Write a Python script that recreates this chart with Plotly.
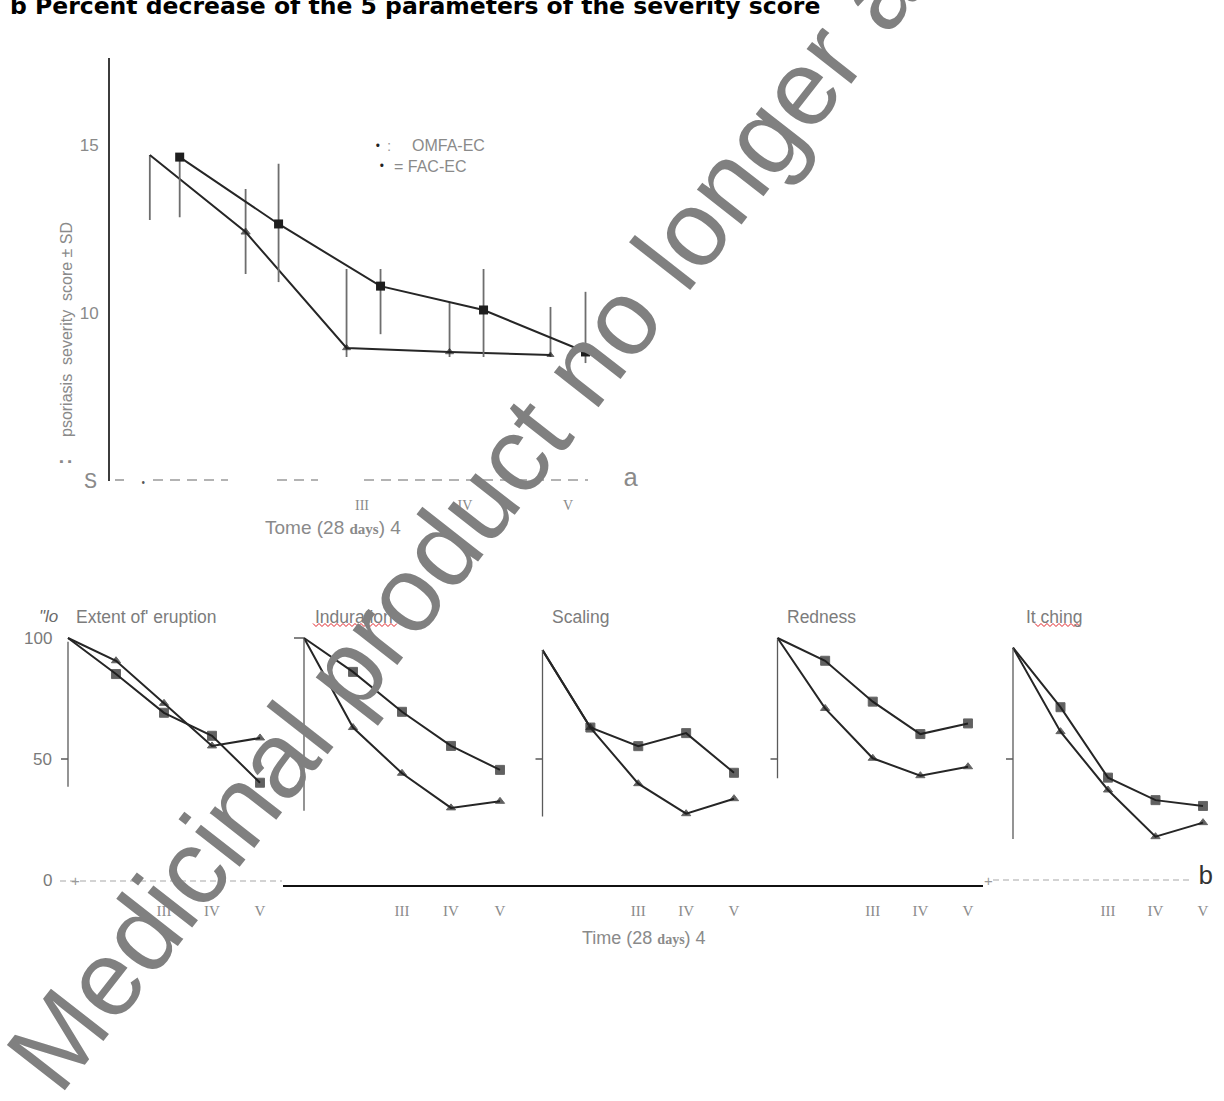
import plotly.graph_objects as go

W, H = 1224, 1101


def fx(px):
    return px / W


def fy(py):
    return 1 - py / H


# ---------------- data ----------------
# (a) psoriasis severity score, mean +/- SD per visit
visit_ticks = [3, 4, 5]
visit_labels = ["III", "IV", "V"]

omfa_time = [0.94, 1.87, 2.85, 3.85, 4.83]
omfa_score = [14.70, 12.41, 8.96, 8.84, 8.75]
omfa_sd_up = [0.00, 1.28, 2.35, 1.49, 1.43]
omfa_sd_down = [1.93, 1.25, 0.27, 0.15, 0.06]

fac_time = [1.23, 2.19, 3.18, 4.18, 5.17]
fac_score = [14.64, 12.65, 10.80, 10.09, 8.84]
fac_sd_up = [0.00, 1.79, 0.51, 1.22, 1.79]
fac_sd_down = [1.79, 1.73, 1.43, 1.40, 0.33]

# (b) percent of baseline for the 5 score parameters, visits I..V
visits = [1, 2, 3, 4, 5]
param_names = ["Extent of' eruption", "Induration", "Scaling", "Redness", "It ching"]

extent_sq = [100, 85.1, 69.1, 59.6, 40.2]
extent_tri = [100, 90.6, 73.0, 55.4, 58.7]
induration_sq = [100, 86.0, 69.5, 55.4, 45.5]
induration_tri = [100, 63.0, 44.1, 29.8, 32.5]
scaling_sq = [95, 63.0, 55.3, 60.7, 44.3]
scaling_tri = [95, 63.0, 39.8, 27.4, 33.6]
redness_sq = [100, 90.6, 73.7, 60.3, 64.7]
redness_tri = [100, 70.9, 50.3, 43.1, 46.8]
itching_sq = [96, 71.4, 42.3, 33.0, 30.6]
itching_tri = [96, 61.3, 37.2, 17.9, 23.7]

panel_sq = [extent_sq, induration_sq, scaling_sq, redness_sq, itching_sq]
panel_tri = [extent_tri, induration_tri, scaling_tri, redness_tri, itching_tri]

# ---------------- styling / layout constants ----------------
GRAY_TXT = "#7c7c7c"
LINE_C = "#262626"
SANS = "Liberation Sans, Arial, sans-serif"
SERIF = "Liberation Serif, Times New Roman, serif"
MONO = "Liberation Mono, Courier New, monospace"

# top panel: time axis pixel mapping
T0_PX, T_STEP = 53.0, 103.0
TOP_L, TOP_R = 110.0, 640.0
TOP_Y0_PX, TOP_PX_PER_UNIT = 481.0, 33.6
TOP_TOP_PX = 57.6

# bottom panels
axis_px = [68.0, 304.0, 542.5, 777.5, 1013.0]
last_px = [260.0, 500.0, 734.0, 968.0, 1203.0]
axis_span = [(38.5, 98.5), (28.6, 99.6), (26.2, 95.0), (42.0, 99.4), (16.9, 96.0)]
title_px = [74.0, 313.0, 550.0, 785.0, 1024.0]
BOT_ZERO_PX, BOT_PX_PER_UNIT, BOT_TOP_PX = 880.0, 2.42, 620.0

fig = go.Figure()
shapes = []
ann = []

# ---------------- (a) ----------------
fig.add_trace(go.Scatter(
    x=omfa_time, y=omfa_score, mode="lines+markers", name="OMFA-EC",
    line=dict(color=LINE_C, width=2),
    marker=dict(symbol="triangle-up", size=[0, 8, 7, 7, 6], color="#1e1e1e"),
    error_y=dict(type="data", symmetric=False, array=omfa_sd_up,
                 arrayminus=omfa_sd_down, width=0, thickness=1.8, color="#6e6e6e"),
    xaxis="x", yaxis="y", showlegend=False, cliponaxis=False,
))
fig.add_trace(go.Scatter(
    x=fac_time, y=fac_score, mode="lines+markers", name="FAC-EC",
    line=dict(color=LINE_C, width=2),
    marker=dict(symbol="square", size=9, color="#1e1e1e"),
    error_y=dict(type="data", symmetric=False, array=fac_sd_up,
                 arrayminus=fac_sd_down, width=0, thickness=1.8, color="#6e6e6e"),
    xaxis="x", yaxis="y", showlegend=False, cliponaxis=False,
))

top_xrange = [(TOP_L - T0_PX) / T_STEP, (TOP_R - T0_PX) / T_STEP]
top_yrange = [5, 5 + (TOP_Y0_PX - TOP_TOP_PX) / TOP_PX_PER_UNIT]

layout_axes = dict(
    xaxis=dict(domain=[fx(TOP_L), fx(TOP_R)], range=top_xrange, anchor="y",
               showgrid=False, zeroline=False, showline=False,
               tickvals=visit_ticks, ticktext=visit_labels, ticks="outside",
               ticklen=11, tickcolor="rgba(0,0,0,0)",
               tickfont=dict(family=SERIF, size=14, color="#8a8a8a")),
    yaxis=dict(domain=[fy(TOP_Y0_PX), fy(TOP_TOP_PX)], range=top_yrange, anchor="x",
               showgrid=False, zeroline=False, showline=True, linecolor="#3c3c3c",
               linewidth=1.7, tickvals=[10, 15], ticks="outside", ticklen=6,
               tickcolor="rgba(0,0,0,0)",
               tickfont=dict(family=SANS, size=17, color="#8a8a8a")),
)

# dashed baseline of (a)
for x0, x1 in [(115, 124), (153, 228), (277, 318), (364, 588)]:
    shapes.append(dict(type="line", xref="paper", yref="paper",
                       x0=fx(x0), x1=fx(x1), y0=fy(480), y1=fy(480),
                       line=dict(color="#9a9a9a", width=1.6, dash="10px,7px")))
ann.append(dict(text="•", x=fx(143), y=fy(483), font=dict(size=12, color="#555555")))
ann.append(dict(text="S", x=fx(90), y=fy(482), font=dict(family=MONO, size=22, color="#8a8a8a")))
ann.append(dict(text="a", x=fx(631), y=fy(479), font=dict(family=MONO, size=26, color="#8a8a8a")))

ann.append(dict(text="psoriasis  severity  score ± SD", textangle=-90,
                x=fx(66), y=fy(330), font=dict(family=SANS, size=16, color="#8a8a8a")))
ann.append(dict(text="<b>:</b>", textangle=-90, x=fx(64), y=fy(462),
                font=dict(family=SANS, size=20, color="#8a8a8a")))
ann.append(dict(text="Tome (28 <span style='font-family:Liberation Serif;font-weight:bold;font-size:15px'>days</span>) 4",
                x=fx(333), y=fy(527), font=dict(family=SANS, size=19, color="#8a8a8a")))

# legend
ann.append(dict(text="•", x=fx(378), y=fy(145), font=dict(size=15, color="#222222")))
ann.append(dict(text=":", x=fx(389), y=fy(145), font=dict(family=SANS, size=15, color="#9a9a9a")))
ann.append(dict(text="OMFA-EC", x=fx(410), y=fy(145), xanchor="left",
                font=dict(family=SANS, size=16, color="#8a8a8a")))
ann.append(dict(text="•", x=fx(382), y=fy(165), font=dict(size=15, color="#222222")))
ann.append(dict(text="= FAC-EC", x=fx(392), y=fy(166), xanchor="left",
                font=dict(family=SANS, size=16, color="#8a8a8a")))

# ---------------- (b) ----------------
for k in range(5):
    xa = f"x{k + 2}"
    ya = f"y{k + 2}"
    step = (last_px[k] - axis_px[k]) / 4.0
    lo = max(0.4, 1 - axis_px[k] / step)
    hi = min(5.6, 1 + (W - axis_px[k]) / step)
    d0 = axis_px[k] + (lo - 1) * step
    d1 = axis_px[k] + (hi - 1) * step
    fig.add_trace(go.Scatter(
        x=visits, y=panel_sq[k], mode="lines+markers", name="FAC-EC",
        line=dict(color=LINE_C, width=2),
        marker=dict(symbol="square", size=[0, 9, 9, 9, 9], color="#1e1e1e"),
        xaxis=xa, yaxis=ya, showlegend=False, cliponaxis=False,
    ))
    fig.add_trace(go.Scatter(
        x=visits, y=panel_tri[k], mode="lines+markers", name="OMFA-EC",
        line=dict(color=LINE_C, width=2),
        marker=dict(symbol="triangle-up", size=[0, 8, 8, 8, 8], color="#1e1e1e"),
        xaxis=xa, yaxis=ya, showlegend=False, cliponaxis=False,
    ))
    layout_axes[f"xaxis{k + 2}"] = dict(
        domain=[max(0.0, fx(d0)), min(1.0, fx(d1))], range=[lo, hi], anchor=ya,
        showgrid=False, zeroline=False, showline=False,
        tickvals=visit_ticks, ticktext=visit_labels, ticks="outside", ticklen=17,
        tickcolor="rgba(0,0,0,0)",
        tickfont=dict(family=SERIF, size=15, color="#8a8a8a"))
    layout_axes[f"yaxis{k + 2}"] = dict(
        domain=[fy(BOT_ZERO_PX), fy(BOT_TOP_PX)],
        range=[0, (BOT_ZERO_PX - BOT_TOP_PX) / BOT_PX_PER_UNIT], anchor=xa,
        visible=False)
    # partial vertical axis and tick marks
    shapes.append(dict(type="line", xref=xa, yref=ya, x0=1, x1=1,
                       y0=axis_span[k][0], y1=axis_span[k][1],
                       line=dict(color="#5a5a5a", width=1.3)))
    shapes.append(dict(type="line", xref=xa, yref=ya, xsizemode="pixel", xanchor=1,
                       x0=-7, x1=0, y0=50, y1=50, line=dict(color="#5a5a5a", width=1.3)))
    if k == 1:
        shapes.append(dict(type="line", xref=xa, yref=ya, xsizemode="pixel", xanchor=1,
                           x0=-10, x1=0, y0=100, y1=100,
                           line=dict(color="#5a5a5a", width=1.3)))
    ann.append(dict(text=param_names[k], x=fx(title_px[k]), y=fy(617), xanchor="left",
                    font=dict(family=SANS, size=17.5, color=GRAY_TXT)))

# percentage scale labels on the first panel
for v in [100, 50, 0]:
    ann.append(dict(text=str(v), xref="x2", yref="y2", x=1, y=v, xanchor="right",
                    xshift=-14, font=dict(family=SANS, size=17, color="#7a7a7a")))
ann.append(dict(text="<i>\"lo</i>", x=fx(48), y=fy(617),
                font=dict(family=SANS, size=17, color="#6a6a6a")))

# baseline of (b)
shapes.append(dict(type="line", xref="paper", yref="paper", x0=fx(60), x1=fx(282),
                   y0=fy(881), y1=fy(881),
                   line=dict(color="#a8a8a8", width=1.2, dash="6px,4px")))
shapes.append(dict(type="line", xref="paper", yref="paper", x0=fx(283), x1=fx(983),
                   y0=fy(886), y1=fy(886), line=dict(color="#111111", width=1.8)))
shapes.append(dict(type="line", xref="paper", yref="paper", x0=fx(993), x1=fx(1192),
                   y0=fy(880), y1=fy(880),
                   line=dict(color="#a8a8a8", width=1.2, dash="6px,4px")))
ann.append(dict(text="+", x=fx(75), y=fy(880), font=dict(family=SANS, size=15, color="#9a9a9a")))
ann.append(dict(text="+", x=fx(988), y=fy(880), font=dict(family=SANS, size=15, color="#9a9a9a")))
ann.append(dict(text="b", x=fx(1206), y=fy(877), font=dict(family=MONO, size=26, color="#333333")))
ann.append(dict(text="Time (28 <span style='font-family:Liberation Serif;font-weight:bold;font-size:14px'>days</span>) 4",
                x=fx(644), y=fy(938), font=dict(family=SANS, size=18, color="#8a8a8a")))


# spell-check squiggles under two of the headings
def squiggle(x0, x1, y, amp=1.5, period=3.0):
    pts = []
    x, i = x0, 0
    while x <= x1:
        yy = y + (amp if i % 2 else -amp)
        pts.append(f"{fx(x):.5f},{fy(yy):.5f}")
        x += period
        i += 1
    return "M " + " L ".join(pts)


for sx0, sx1 in [(313, 398), (1035, 1080)]:
    shapes.append(dict(type="path", xref="paper", yref="paper", path=squiggle(sx0, sx1, 625),
                       line=dict(color="#e0242a", width=1)))

# heading (runs off the top edge of the page)
ann.append(dict(text="<b>b Percent decrease of the 5 parameters of the severity score</b>",
                x=fx(8), y=fy(5.5), xanchor="left",
                font=dict(family="DejaVu Sans, Verdana, sans-serif", size=23.5, color="#000000")))

# diagonal watermark
ann.append(dict(text="Medicinal product no longer authorised", x=fx(598), y=fy(348),
                textangle=-52,
                font=dict(family=SANS, size=107, color="#808080")))

for a in ann:
    a.setdefault("xref", "paper")
    a.setdefault("yref", "paper")
    a.setdefault("showarrow", False)
    a.setdefault("xanchor", "center")
    a.setdefault("yanchor", "middle")

fig.update_layout(
    width=W, height=H, margin=dict(l=0, r=0, t=0, b=0),
    paper_bgcolor="white", plot_bgcolor="white",
    shapes=shapes, annotations=ann, showlegend=False,
    **layout_axes,
)

fig.write_html("out.html")
